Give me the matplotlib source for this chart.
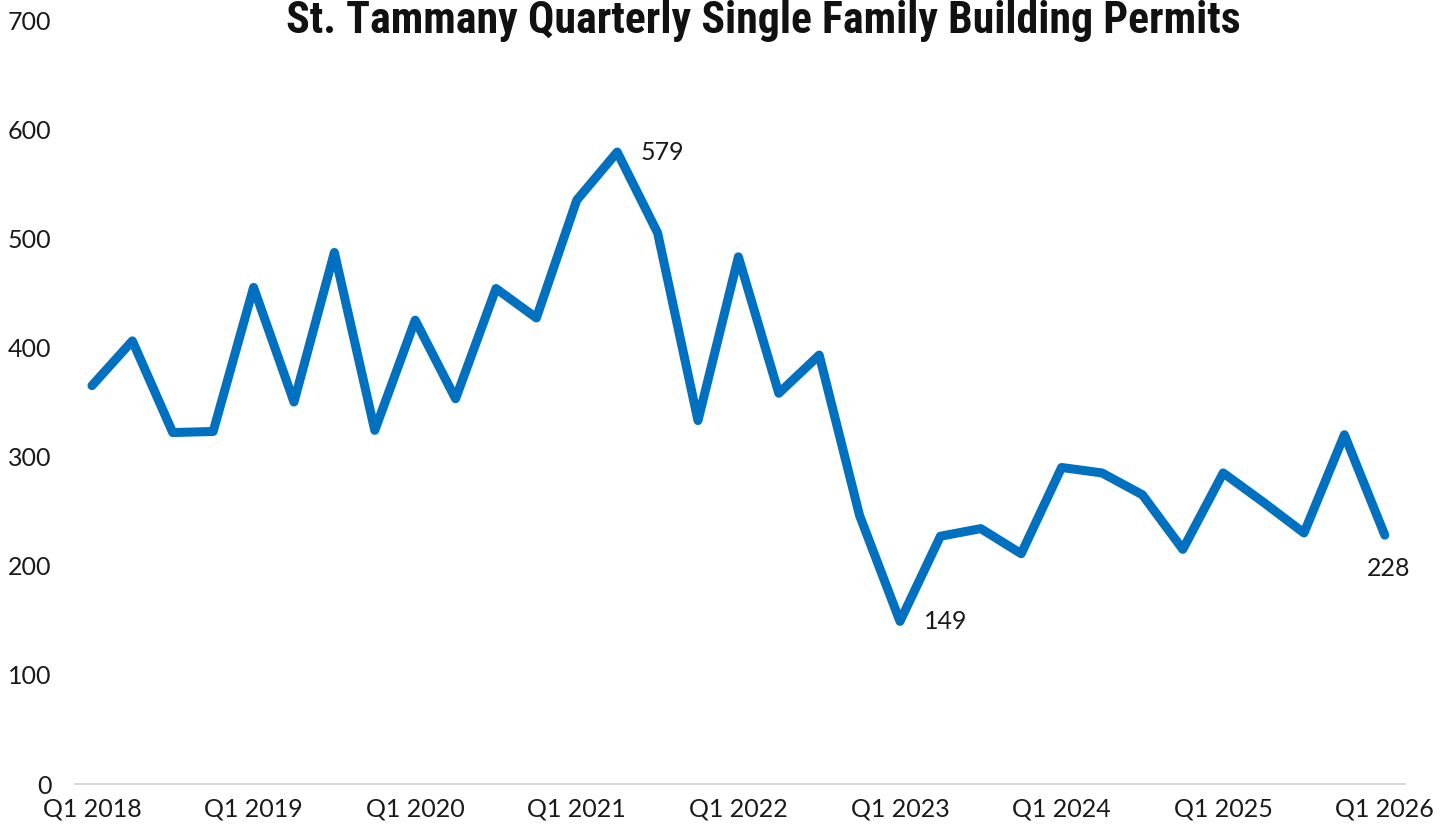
import matplotlib.pyplot as plt
from matplotlib import font_manager

# Quarterly single family permits, Q1 2018 .. Q1 2026
quarters = [f"Q{q} {y}" for y in range(2018, 2026) for q in range(1, 5)] + ["Q1 2026"]
permits = [365, 406, 322, 323,
           455, 350, 487, 324,
           425, 353, 454, 427,
           535, 579, 505, 333,
           483, 358, 393, 246,
           149, 227, 234, 211,
           290, 285, 265, 215,
           285, 258, 230, 320,
           228]
y_ticks = [0, 100, 200, 300, 400, 500, 600, 700]
title = "St. Tammany Quarterly Single Family Building Permits"

names = {f.name for f in font_manager.fontManager.ttflist}
body_font = "Lato" if "Lato" in names else "DejaVu Sans"
title_font = "DejaVu Sans"
for cand in ["Roboto Condensed", "Liberation Sans Narrow", "Open Sans Condensed",
             "Noto Sans Condensed", "Roboto", "Inter"]:
    if cand in names:
        title_font = cand
        break

line_color = "#0070C0"
text_color = "#1a1a1a"

fig = plt.figure(figsize=(14.47, 8.27), dpi=100)
ax = fig.add_axes([75 / 1447, 1 - 784 / 827, (1405 - 75) / 1447, (784 - 20) / 827])

x = list(range(len(permits)))
ax.plot(x, permits, color=line_color, linewidth=6.5, solid_joinstyle="round",
        solid_capstyle="round")

ax.set_xlim(-0.42, 32.5)
ax.set_ylim(0, 700)
ax.set_yticks(y_ticks)
ax.set_yticklabels([str(v) for v in y_ticks])
tick_pos = list(range(0, len(quarters), 4))
ax.set_xticks(tick_pos)
ax.set_xticklabels([quarters[i] for i in tick_pos])

for s in ["top", "right", "left"]:
    ax.spines[s].set_visible(False)
ax.spines["bottom"].set_color("#d9d9d9")
ax.spines["bottom"].set_linewidth(1.5)
ax.tick_params(axis="both", length=0, labelsize=18, labelcolor=text_color,
               labelfontfamily=body_font)
ax.tick_params(axis="y", pad=17)
ax.tick_params(axis="x", pad=10)

# annotations for peak, trough and latest
ax.annotate("579", (13, 579), xytext=(17, 0), textcoords="offset points",
            ha="left", va="center", fontsize=18, color=text_color, family=body_font)
ax.annotate("149", (20, 149), xytext=(17, 0), textcoords="offset points",
            ha="left", va="center", fontsize=18, color=text_color, family=body_font)
ax.annotate("228", (32, 228), xytext=(3, -24), textcoords="offset points",
            ha="center", va="center", fontsize=18, color=text_color, family=body_font)

t = fig.text(0.5276, 1 - 33 / 827, title, ha="center", va="baseline",
             fontsize=26, fontweight="bold", family=title_font, color="#111111")
# size the title so it spans roughly the same width as the reference
fig.canvas.draw()
w = t.get_window_extent().width
t.set_fontsize(26 * 957 / w)

fig.savefig("out.png", dpi=100)
